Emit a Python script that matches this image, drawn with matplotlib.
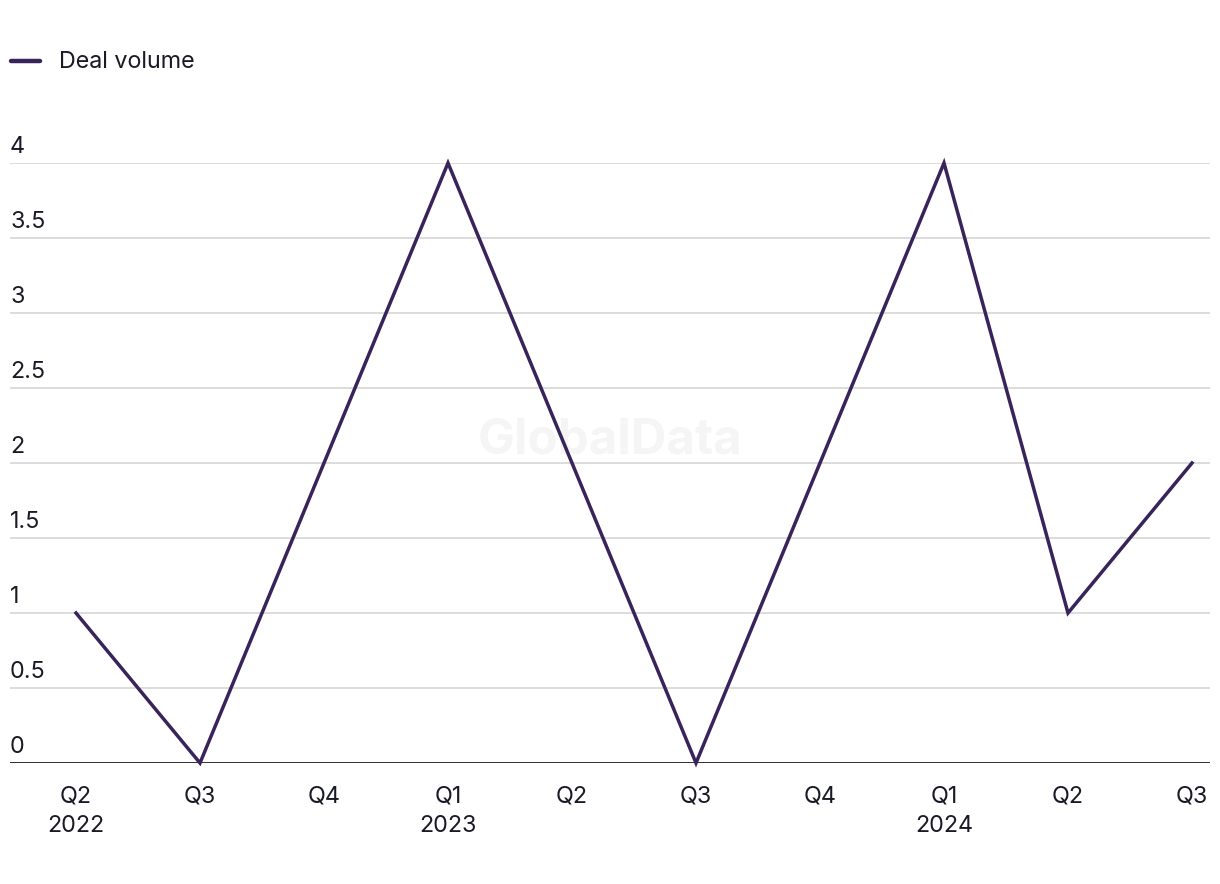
import matplotlib
matplotlib.use("Agg")
import matplotlib.pyplot as plt
import matplotlib.transforms as mtransforms

plt.rcParams['font.family'] = ['Inter', 'DejaVu Sans']

quarters = ["Q2\n2022", "Q3", "Q4", "Q1\n2023", "Q2", "Q3", "Q4", "Q1\n2024", "Q2", "Q3"]
deal_volume = [1, 0, 2, 4, 2, 0, 2, 4, 1, 2]
y_ticks = [0, 0.5, 1, 1.5, 2, 2.5, 3, 3.5, 4]
y_tick_labels = ["0", "0.5", "1", "1.5", "2", "2.5", "3", "3.5", "4"]

W, H = 1220, 884
fig = plt.figure(figsize=(W / 100, H / 100), dpi=100)
ax = fig.add_axes([10 / W, (H - 763) / H, 1200 / W, 600 / H])

line_color = "#38235a"
text_color = "#1a1a26"
fs = 16.8

x = list(range(len(deal_volume)))
ax.plot(x, deal_volume, color=line_color, lw=2.5, solid_joinstyle="miter", clip_on=False, zorder=3)

ax.set_xlim(-66 / 124, 9 + 18 / 124)
ax.set_ylim(0, 4)

for v in y_ticks[1:]:
    ax.axhline(v, color="#dcdcdc", lw=1.4, zorder=1)
ax.axhline(0, color="#1a1a2a", lw=2.0, zorder=2)

for s in ax.spines.values():
    s.set_visible(False)

ax.set_yticks([])
trans = mtransforms.blended_transform_factory(ax.transAxes, ax.transData) + \
    mtransforms.ScaledTranslation(0, 5 / 100, fig.dpi_scale_trans)
for v, lab in zip(y_ticks, y_tick_labels):
    ax.text(0, v, lab, transform=trans, ha="left", va="bottom", fontsize=fs, color=text_color)

ax.set_xticks(x)
ax.set_xticklabels(quarters, fontsize=fs, color=text_color, linespacing=1.45)
ax.tick_params(axis="x", length=0, pad=16)

# watermark
ax.text(0.5, 0.537, "GlobalData", transform=ax.transAxes, ha="center", va="center",
        fontsize=35.5, fontweight="bold", color="#f5f5f5", zorder=0)

# legend
fig.lines.append(plt.Line2D([11 / W, 40 / W], [(H - 61) / H] * 2, color=line_color, lw=3.2,
                            solid_capstyle="round", transform=fig.transFigure))
fig.text(59 / W, (H - 62) / H, "Deal volume", ha="left", va="center", fontsize=fs, color=text_color)

fig.savefig("out.png", dpi=100, facecolor="white")
